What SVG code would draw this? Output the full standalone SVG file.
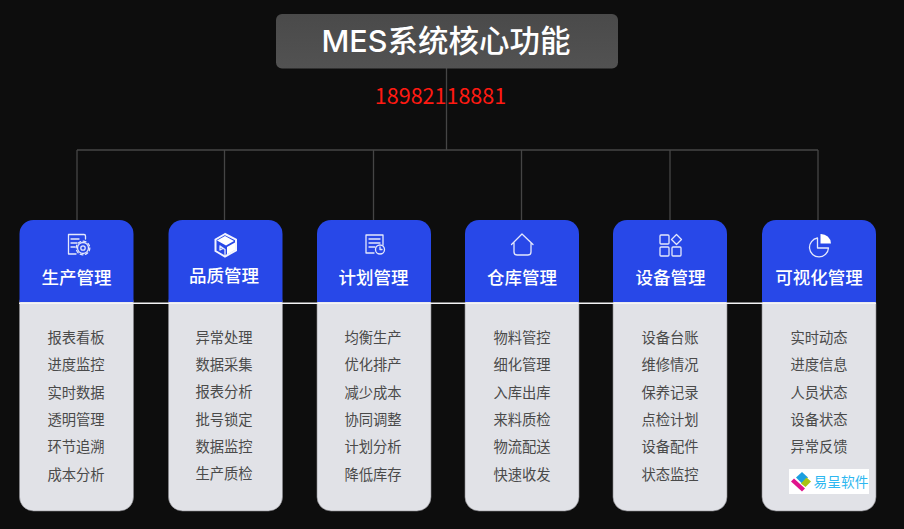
<svg xmlns="http://www.w3.org/2000/svg" width="904" height="529" viewBox="0 0 904 529">
<defs>
<linearGradient id="tg" x1="0" y1="0" x2="0" y2="1"><stop offset="0" stop-color="#4a4a4a"/><stop offset="1" stop-color="#525252"/></linearGradient>
</defs>
<style>
text{font-family:"Noto Sans CJK SC","Noto Sans",sans-serif;text-anchor:middle}
.body{fill:#e1e2e7;stroke:#8a8a8e;stroke-width:.6}
.head{fill:#2848e8}
.h{fill:#fff;font-size:17.5px;font-weight:500}
.i{fill:#4a4a4a;font-size:14.3px}
.ic{fill:none;stroke:#e4e8fc;stroke-width:1.3;stroke-linecap:round;stroke-linejoin:round}
.c{fill:none;stroke:#454545;stroke-width:1.3}
</style>
<rect width="904" height="529" fill="#0d0d0d"/>
<g id="connectors">
<path class="c" d="M446.500 68V150M77 150H818M77 150V221M224.500 150V221M373.500 150V221M521.500 150V221M670 150V221M818 150V221"/>
</g>
<g id="title">
<rect x="276" y="14" width="342" height="54.500" rx="6" fill="url(#tg)"/>
<text x="446" y="52" font-size="30.500" font-weight="500" fill="#fff" style="font-family:Inter,'Noto Sans CJK SC',sans-serif">MES系统核心功能</text>
</g>
<text id="phone" x="440.500" y="104" font-size="21.500" fill="#ff1a12">18982118881</text>

<g id="col1">
<rect class="body" x="19.500" y="290" width="114" height="221" rx="14"/>
<path class="head" d="M19.500 302V234a14 14 0 0 1 14-14h86a14 14 0 0 1 14 14v68z"/>
<path class="ic" d="M85.500 239V236a1.500 1.500 0 0 0-1.500-1.500H68.500V254H76M71 239H79M71 243H77M71 247H75"/>
<circle class="ic" cx="83" cy="248" r="2.200"/><circle class="ic" cx="83" cy="248" r="5.500"/><circle class="ic" cx="83" cy="248" r="6.800" stroke-dasharray="2.800 2.540" stroke-linecap="butt"/>
<text class="h" x="76.500" y="284">生产管理</text>
<g class="i"><text x="76" y="343">报表看板</text><text x="76" y="370">进度监控</text><text x="76" y="398">实时数据</text><text x="76" y="425">透明管理</text><text x="76" y="452">环节追溯</text><text x="76" y="480">成本分析</text></g>
</g>
<g id="col2">
<rect class="body" x="168.500" y="290" width="114" height="221" rx="14"/>
<path class="head" d="M168.500 302V234a14 14 0 0 1 14-14h86a14 14 0 0 1 14 14v68z"/>
<path d="M225 234L215.500 239.500V251L225 256.500L236 250.500V239.500Z" fill="none" stroke="#f2f4ff" stroke-width="2"/>
<path d="M225 236L234 241L226 245.500L217 240.500Z" fill="#fff"/><path d="M227 247L235 242.500V250L227 254.500Z" fill="#fff"/>
<path class="ic" d="M220 246L225 249.500V255M220 246V250L223 248.500Z"/>
<text class="h" x="224" y="282">品质管理</text>
<g class="i"><text x="224" y="343">异常处理</text><text x="224" y="370">数据采集</text><text x="224" y="397">报表分析</text><text x="224" y="425">批号锁定</text><text x="224" y="452">数据监控</text><text x="224" y="479">生产质检</text></g>
</g>
<g id="col3">
<rect class="body" x="317" y="290" width="114" height="221" rx="14"/>
<path class="head" d="M317 302V234a14 14 0 0 1 14-14h86a14 14 0 0 1 14 14v68z"/>
<path class="ic" d="M383 245V235H366V253H374M369 239H380M369 243H380M369 247H375"/>
<circle class="ic" cx="380" cy="249.500" r="4.500"/><path class="ic" d="M380 247V249.500H382"/>
<text class="h" x="373.500" y="284">计划管理</text>
<g class="i"><text x="373" y="343">均衡生产</text><text x="373" y="370">优化排产</text><text x="373" y="398">减少成本</text><text x="373" y="425">协同调整</text><text x="373" y="452">计划分析</text><text x="373" y="480">降低库存</text></g>
</g>
<g id="col4">
<rect class="body" x="465" y="290" width="114" height="221" rx="14"/>
<path class="head" d="M465 302V234a14 14 0 0 1 14-14h86a14 14 0 0 1 14 14v68z"/>
<path class="ic" d="M511.500 244.500L522 234L533 244.500M514 243V252a3 3 0 0 0 3 3H528a3 3 0 0 0 3-3V243"/>
<text class="h" x="522" y="284">仓库管理</text>
<g class="i"><text x="522" y="343">物料管控</text><text x="522" y="370">细化管理</text><text x="522" y="398">入库出库</text><text x="522" y="425">来料质检</text><text x="522" y="452">物流配送</text><text x="522" y="480">快速收发</text></g>
</g>
<g id="col5">
<rect class="body" x="613" y="290" width="114" height="221" rx="14"/>
<path class="head" d="M613 302V234a14 14 0 0 1 14-14h86a14 14 0 0 1 14 14v68z"/>
<g class="ic"><rect x="660" y="235" width="9" height="9" rx="1"/><rect x="660" y="247" width="9" height="9" rx="1"/><rect x="672" y="247" width="9" height="9" rx="1"/><path d="M676.500 234.500L681.500 239.500L676.500 244.500L671.500 239.500Z"/></g>
<text class="h" x="670.500" y="284">设备管理</text>
<g class="i"><text x="670" y="343">设备台账</text><text x="670" y="370">维修情况</text><text x="670" y="398">保养记录</text><text x="670" y="425">点检计划</text><text x="670" y="452">设备配件</text><text x="670" y="480">状态监控</text></g>
</g>
<g id="col6">
<rect class="body" x="762" y="290" width="114" height="221" rx="14"/>
<path class="head" d="M762 302V234a14 14 0 0 1 14-14h86a14 14 0 0 1 14 14v68z"/>
<path class="ic" d="M817.500 238A9.500 9.500 0 1 0 828.500 248H817.500Z"/>
<path d="M820.500 234A10 10 0 0 1 831 243.500H820.500Z" fill="#fff"/>
<text class="h" x="819" y="284">可视化管理</text>
<g class="i"><text x="819" y="343">实时动态</text><text x="819" y="370">进度信息</text><text x="819" y="398">人员状态</text><text x="819" y="425">设备状态</text><text x="819" y="452">异常反馈</text></g>
</g>
<path id="divider" d="M19 303.200H876" stroke="#f4f4f6" stroke-width="1.600" fill="none"/>
<g id="logo">
<rect x="789" y="469" width="80" height="25" fill="#fff"/>
<path d="M802 472L808 477.500L802 483.500L796 477.500Z" fill="#1c9fe0"/>
<path d="M806.500 477.500L811 481.500L805.500 487L801 483.500Z" fill="#a8c414"/>
<path d="M794 478.500L805 488.500L802 491.500L791 481.500Z" fill="#e0148c"/>
<text x="841" y="487" font-size="13.700" fill="#2db7f0">易呈软件</text>
</g>
</svg>
